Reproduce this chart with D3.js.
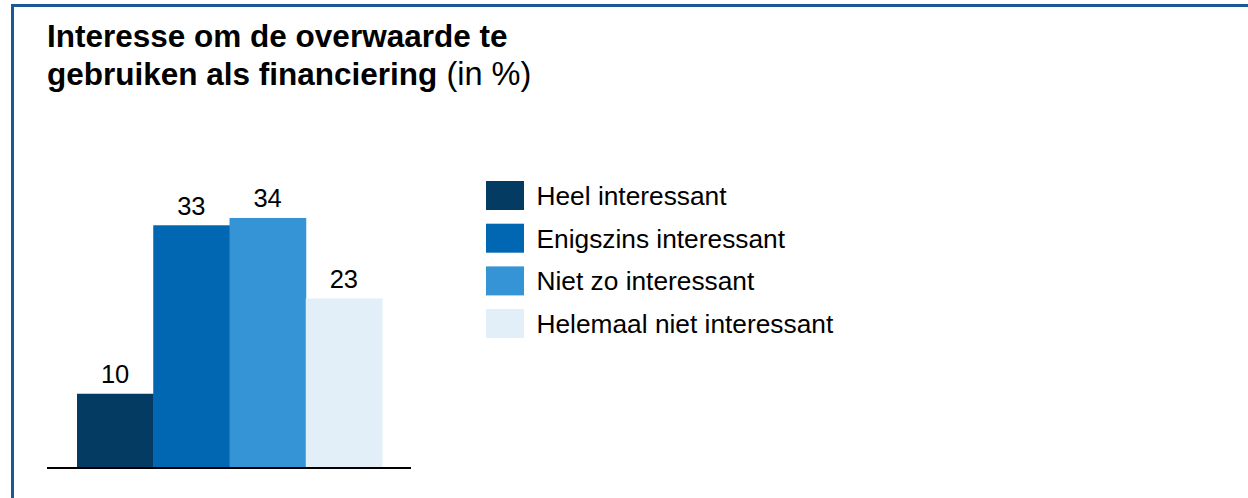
<!DOCTYPE html>
<html>
<head>
<meta charset="utf-8">
<script src="https://cdn.jsdelivr.net/npm/d3@7"></script>
<style>
  body { margin: 0; background: #fff; }
  svg { display: block; font-family: Arial, "Liberation Sans", sans-serif; }
</style>
</head>
<body>
<div id="chart"></div>
<script>
// data
const categories = ['Heel interessant', 'Enigszins interessant', 'Niet zo interessant', 'Helemaal niet interessant'];
const values = [10, 33, 34, 23];
const colors = ['#033b63', '#0167b3', '#3594d5', '#e2eff8'];
const titleBold = ['Interesse om de overwaarde te', 'gebruiken als financiering'];
const titleUnit = ' (in %)';

const W = 1248, H = 498;

const svg = d3.select('#chart')
  .append('svg')
  .attr('width', W)
  .attr('height', H);

// frame (only top and left edge visible)
svg.append('rect')
  .attr('x', 12.5)
  .attr('y', 5.5)
  .attr('width', W + 20)
  .attr('height', H + 20)
  .attr('fill', 'none')
  .attr('stroke', '#1b5896')
  .attr('stroke-width', 3);

// title
const title = svg.append('text')
  .attr('x', 47)
  .attr('fill', '#000')
  .style('font-size', '31.5px');

title.append('tspan')
  .attr('x', 47)
  .attr('y', 47)
  .style('font-weight', 'bold')
  .text(titleBold[0]);

title.append('tspan')
  .attr('x', 47)
  .attr('y', 85)
  .style('font-weight', 'bold')
  .text(titleBold[1]);

title.append('tspan')
  .style('font-size', '32.5px')
  .text(titleUnit);

// scales
const baseY = 467;
const x = d3.scaleBand()
  .domain(categories)
  .range([77, 382])
  .padding(0);

const y = d3.scaleLinear()
  .domain([0, 40])
  .range([baseY, 174]);

// bars
svg.selectAll('.bar')
  .data(categories)
  .enter().append('rect')
  .attr('class', 'bar')
  .attr('x', d => x(d))
  .attr('width', x.bandwidth() + 0.5)
  .attr('y', (d, i) => y(values[i]))
  .attr('height', (d, i) => y(0) - y(values[i]))
  .attr('fill', (d, i) => colors[i]);

// value labels
svg.selectAll('.val')
  .data(categories)
  .enter().append('text')
  .attr('class', 'val')
  .attr('text-anchor', 'middle')
  .attr('x', d => x(d) + x.bandwidth() / 2)
  .attr('y', (d, i) => y(values[i]) - 10.5)
  .style('font-size', '25.5px')
  .attr('fill', '#000')
  .text((d, i) => values[i]);

// baseline
svg.append('line')
  .attr('x1', 47)
  .attr('x2', 411)
  .attr('y1', baseY + 1)
  .attr('y2', baseY + 1)
  .attr('stroke', '#000')
  .attr('stroke-width', 2);

// legend
const legend = svg.append('g')
  .attr('transform', 'translate(486, 181)');

categories.forEach((name, i) => {
  const row = legend.append('g')
    .attr('transform', `translate(0, ${i * 42.7})`);

  row.append('rect')
    .attr('width', 38)
    .attr('height', 29)
    .attr('fill', colors[i]);

  row.append('text')
    .attr('x', 50.5)
    .attr('y', 24)
    .style('font-size', '26.3px')
    .attr('fill', '#000')
    .text(name);
});
</script>
</body>
</html>
